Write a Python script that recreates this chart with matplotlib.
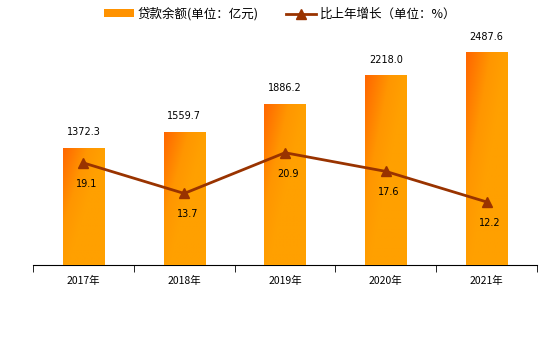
import numpy as np
import matplotlib.pyplot as plt
from matplotlib.colors import LinearSegmentedColormap
from matplotlib.lines import Line2D
from matplotlib.patches import Patch

plt.rcParams['font.family'] = ['Noto Sans CJK SC', 'DejaVu Sans']

years = ['2017年', '2018年', '2019年', '2020年', '2021年']
loans = [1372.3, 1559.7, 1886.2, 2218.0, 2487.6]
growth = [19.1, 13.7, 20.9, 17.6, 12.2]

bar_cmap = LinearSegmentedColormap.from_list(
    'bar', [(0, '#ffa000'), (0.4, '#ff9600'), (1, '#ff6600')])
line_color = '#993300'

fig = plt.figure(figsize=(5.6, 3.38), dpi=100)
ax = fig.add_axes([33 / 560, 73 / 338, 504 / 560, 235 / 338])
x = np.arange(len(years))
width = 0.41

bars = ax.bar(x, loans, width=width, color='#ff9900', zorder=2)

# diagonal gradient fill, darker at the top-left corner of each bar
gx, gy = np.meshgrid(np.linspace(0, 1, 60), np.linspace(0, 1, 200))
shade = np.clip(1 - (gx * 1.0 + gy * 0.9), 0, 1)
for rect in bars:
    x0, w, h = rect.get_x(), rect.get_width(), rect.get_height()
    im = ax.imshow(shade, cmap=bar_cmap, vmin=0, vmax=1, aspect='auto', origin='upper',
                   extent=[x0, x0 + w, 0, h], zorder=3, interpolation='bilinear')
    im.set_clip_path(rect)
    ax.text(rect.get_x() + w / 2, h + 120, f'{h:.1f}', ha='center', va='bottom',
            fontsize=7, family='DejaVu Sans')

ax.set_xlim(-0.5, len(years) - 0.5)
ax.set_ylim(0, 2749)
ax.set_yticks([])
for side in ['left', 'right', 'top']:
    ax.spines[side].set_visible(False)
ax.spines['bottom'].set_color('black')
ax.set_xticks(x)
ax.set_xticklabels(years, fontsize=7.5)
ax.tick_params(axis='x', length=0, pad=8)
ax.set_xticks(np.arange(-0.5, len(years)), minor=True)
ax.tick_params(axis='x', which='minor', length=5, direction='out', color='black')

ax2 = ax.twinx()
ax2.plot(x, growth, color=line_color, lw=2, marker='^', ms=7, zorder=5)
for xi, g in zip(x, growth):
    ax2.text(xi + 0.03, g - 3.7, f'{g:.1f}', ha='center', va='center', fontsize=7,
             family='DejaVu Sans')
ax2.set_ylim(1.05, 42.6)
ax2.set_yticks([])
for side in ['left', 'right', 'top', 'bottom']:
    ax2.spines[side].set_visible(False)

handles = [Patch(facecolor='#ff9200', edgecolor='none'),
           Line2D([], [], color=line_color, lw=2, marker='^', ms=7)]
fig.legend(handles, ['贷款余额(单位：亿元)', '比上年增长（单位：%）'],
           loc='center', bbox_to_anchor=(0.5, 1 - 14 / 338), ncol=2, frameon=False,
           fontsize=9, handlelength=2.4, handleheight=0.6, columnspacing=2.2,
           handletextpad=0.3)

fig.savefig('out.png', dpi=100)
